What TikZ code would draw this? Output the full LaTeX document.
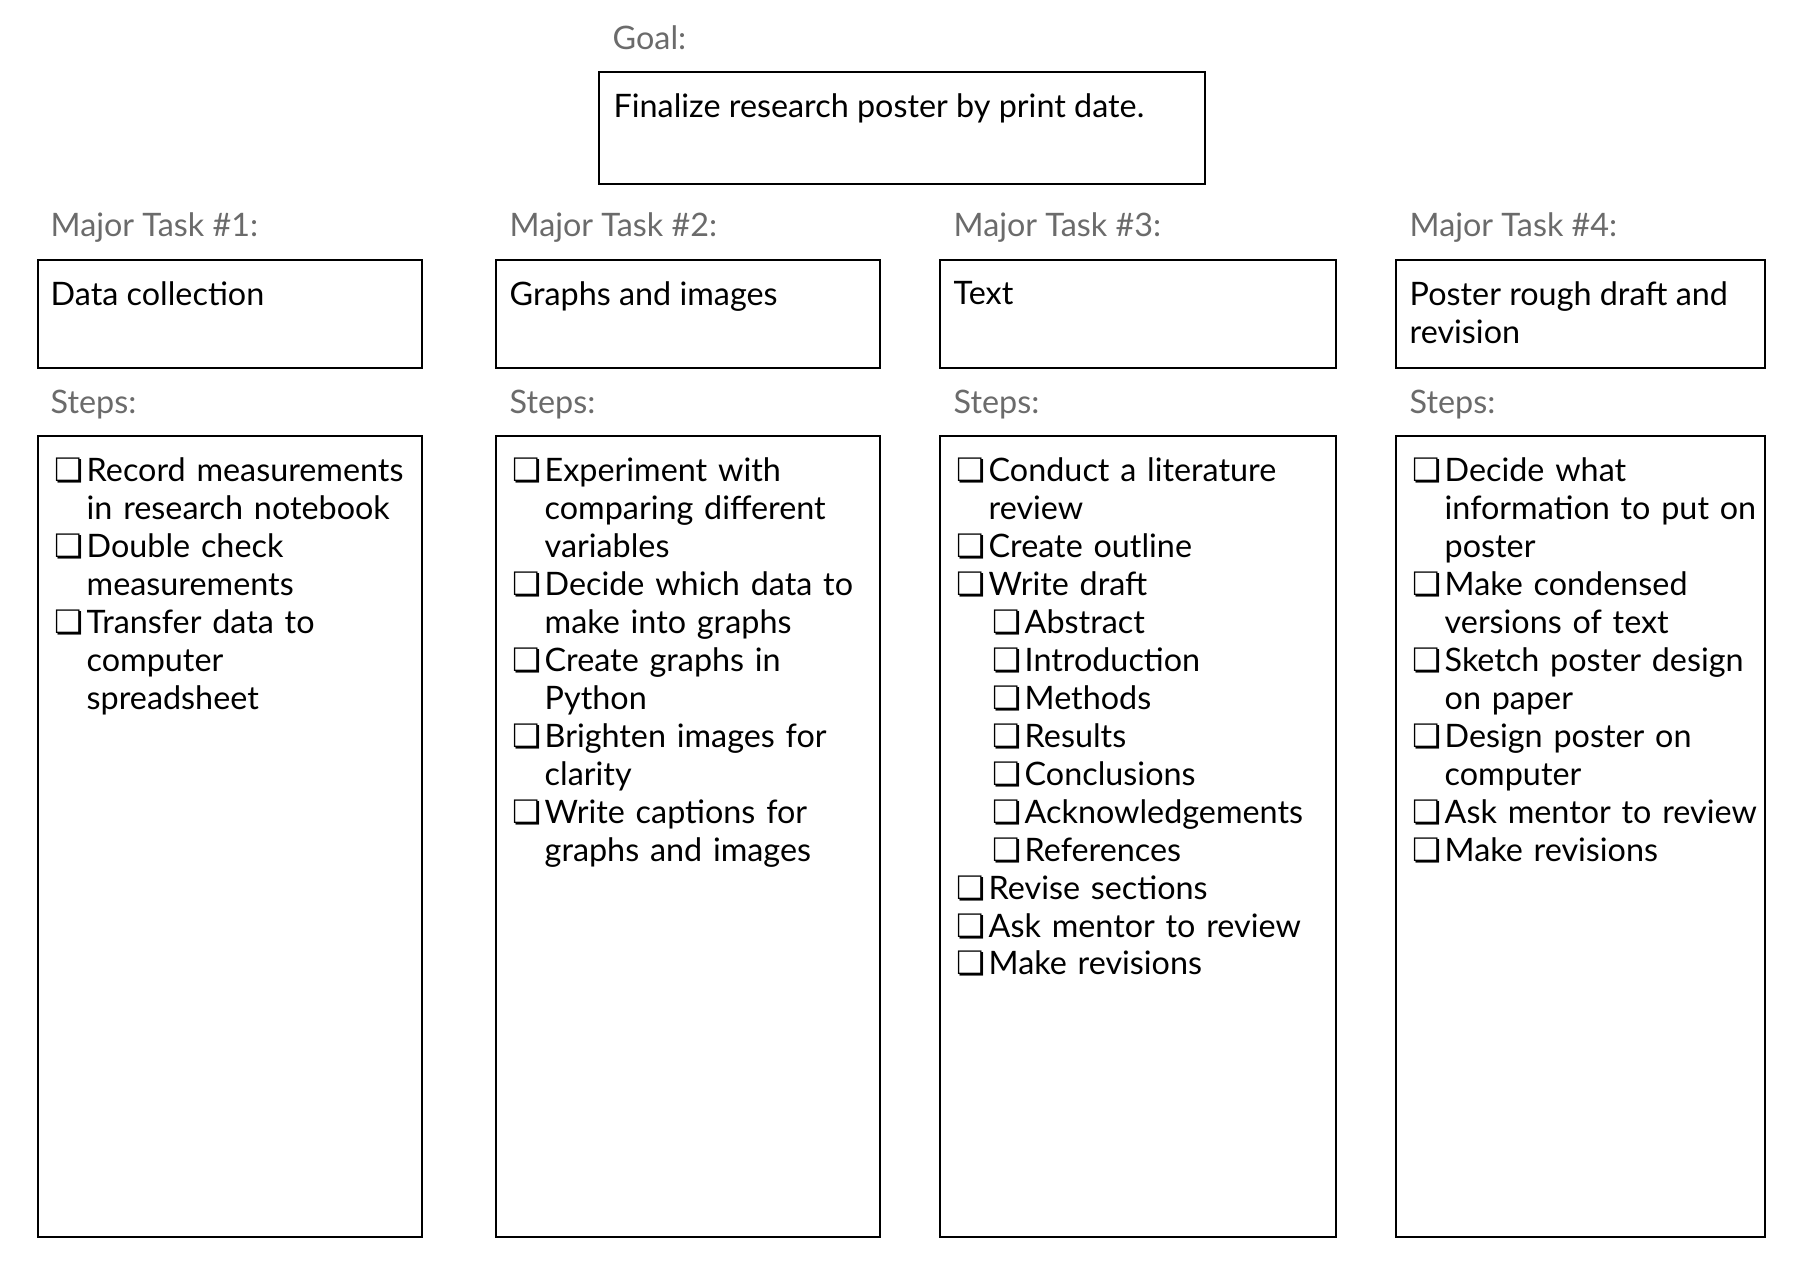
\documentclass[tikz,border=0pt]{standalone}
\usepackage{fontspec}
\setmainfont{Lato}
\newfontfamily\chkfont{DejaVu Sans}
\usepackage{tikz}
\usetikzlibrary{positioning,calc}
\definecolor{lblgray}{HTML}{6B6B6B}

% checklist lines, with hanging indent (use \newline inside)
\newcommand{\chkitem}[1]{\noindent\hangindent=3.2mm\hangafter=1%
  \makebox[3.2mm][l]{\chkfont ❏}#1\par}
\newcommand{\chksub}[1]{\noindent\hangindent=6.8mm\hangafter=1%
  \hspace*{3.6mm}\makebox[3.2mm][l]{\chkfont ❏}#1\par}

\begin{document}
\begin{tikzpicture}[
  font=\fontsize{9.2}{10.8}\selectfont,
  frame/.style={draw=black,line width=0.6pt,anchor=north west,inner sep=0pt},
  taskbox/.style={frame,minimum height=1.08cm},
  stepbox/.style={frame,minimum height=8.01cm},
  lbl/.style={text=lblgray,inner sep=0pt,anchor=base west},
  txt/.style={inner sep=0pt,align=left,anchor=north west}
]
\useasboundingbox (0,0) rectangle (18,-12.72);

% goal
\node[frame,minimum width=6.06cm,minimum height=1.12cm] (goal) at (5.98,-0.71) {};
\node[lbl] (goallbl) at ($(goal.north west)+(0.14,0.22)$) {Goal:};
\node[txt,below right=0.22cm and 0.15cm of goal.north west] (goaltxt)
  {Finalize research poster by print date.};

% major task boxes
\node[taskbox,minimum width=3.84cm] (t1) at (0.37,-2.59) {};
\node[taskbox,minimum width=3.84cm] (t2) at (4.95,-2.59) {};
\node[taskbox,minimum width=3.96cm] (t3) at (9.39,-2.59) {};
\node[taskbox,minimum width=3.69cm] (t4) at (13.95,-2.59) {};

\node[lbl] (t1lbl) at ($(t1.north west)+(0.13,0.23)$) {Major Task \#1:};
\node[lbl] (t2lbl) at ($(t2.north west)+(0.14,0.23)$) {Major Task \#2:};
\node[lbl] (t3lbl) at ($(t3.north west)+(0.14,0.23)$) {Major Task \#3:};
\node[lbl] (t4lbl) at ($(t4.north west)+(0.14,0.23)$) {Major Task \#4:};

\node[txt,below right=0.22cm and 0.13cm of t1.north west] (t1txt) {Data collection};
\node[txt,below right=0.22cm and 0.14cm of t2.north west] (t2txt) {Graphs and images};
\node[txt,below right=0.22cm and 0.14cm of t3.north west] (t3txt) {Text};
\node[txt,below right=0.22cm and 0.14cm of t4.north west] (t4txt)
  {Poster rough draft and\\revision};

% steps boxes
\node[stepbox,minimum width=3.84cm] (s1) at (0.37,-4.35) {};
\node[stepbox,minimum width=3.84cm] (s2) at (4.95,-4.35) {};
\node[stepbox,minimum width=3.96cm] (s3) at (9.39,-4.35) {};
\node[stepbox,minimum width=3.69cm] (s4) at (13.95,-4.35) {};

\node[lbl] (s1lbl) at ($(s1.north west)+(0.13,0.22)$) {Steps:};
\node[lbl] (s2lbl) at ($(s2.north west)+(0.14,0.22)$) {Steps:};
\node[lbl] (s3lbl) at ($(s3.north west)+(0.14,0.22)$) {Steps:};
\node[lbl] (s4lbl) at ($(s4.north west)+(0.14,0.22)$) {Steps:};

\node[txt,text width=3.65cm,below right=0.22cm and 0.17cm of s1.north west] (s1txt) {%
  \chkitem{Record measurements\newline in research notebook}
  \chkitem{Double check\newline measurements}
  \chkitem{Transfer data to\newline computer\newline spreadsheet}};
\node[txt,text width=3.65cm,below right=0.22cm and 0.17cm of s2.north west] (s2txt) {%
  \chkitem{Experiment with\newline comparing different\newline variables}
  \chkitem{Decide which data to\newline make into graphs}
  \chkitem{Create graphs in\newline Python}
  \chkitem{Brighten images for\newline clarity}
  \chkitem{Write captions for\newline graphs and images}};
\node[txt,text width=3.75cm,below right=0.22cm and 0.17cm of s3.north west] (s3txt) {%
  \chkitem{Conduct a literature\newline review}
  \chkitem{Create outline}
  \chkitem{Write draft}
  \chksub{Abstract}
  \chksub{Introduction}
  \chksub{Methods}
  \chksub{Results}
  \chksub{Conclusions}
  \chksub{Acknowledgements}
  \chksub{References}
  \chkitem{Revise sections}
  \chkitem{Ask mentor to review}
  \chkitem{Make revisions}};
\node[txt,text width=3.5cm,below right=0.22cm and 0.17cm of s4.north west] (s4txt) {%
  \chkitem{Decide what\newline information to put on\newline poster}
  \chkitem{Make condensed\newline versions of text}
  \chkitem{Sketch poster design\newline on paper}
  \chkitem{Design poster on\newline computer}
  \chkitem{Ask mentor to review}
  \chkitem{Make revisions}};
\end{tikzpicture}
\end{document}
